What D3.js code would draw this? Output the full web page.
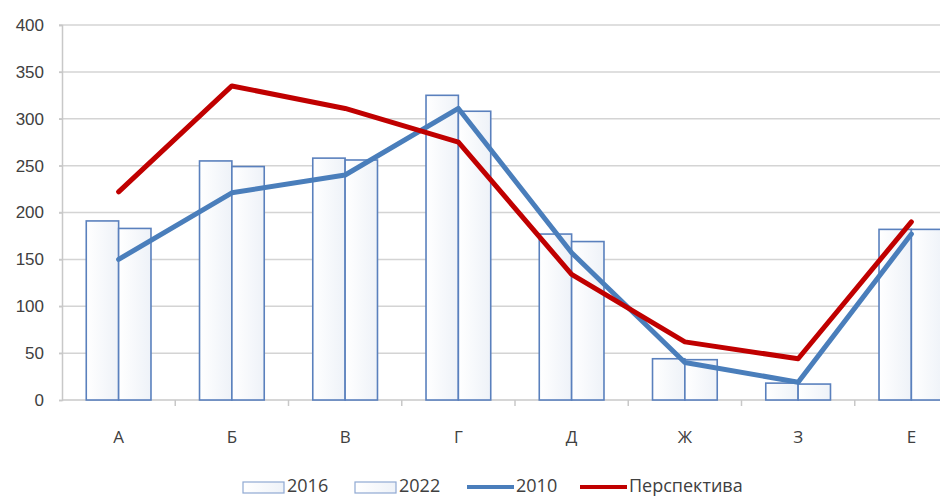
<!DOCTYPE html>
<html>
<head>
<meta charset="utf-8">
<script src="https://cdn.jsdelivr.net/npm/d3@7"></script>
<style>
  html, body { margin: 0; padding: 0; background: #fff; }
  svg { display: block; font-family: "Open Sans", "Liberation Sans", sans-serif; }
</style>
</head>
<body>
<svg id="chart" width="940" height="497"></svg>
<script>
// Categories and series
const categories = ["А", "Б", "В", "Г", "Д", "Ж", "З", "Е"];
const bars2016 = [191, 255, 258, 325, 177, 44, 18, 182];
const bars2022 = [183, 249, 256, 308, 169, 43, 17, 182];
const line2010 = [150, 221, 240, 311, 157, 40, 19, 177];
const linePerspective = [222, 335, 311, 275, 134, 62, 44, 190];
const yTicks = [0, 50, 100, 150, 200, 250, 300, 350, 400];
const legendLabels = ["2016", "2022", "2010", "Перспектива"];

const svg = d3.select("#chart");
const plot = { left: 62, right: 968, top: 25, bottom: 400 };

const x = d3.scaleBand().domain(categories).range([plot.left, plot.right]).padding(0);
const xSub = d3.scaleBand().domain(["2016", "2022"]).range([0, x.bandwidth()])
  .paddingInner(0).paddingOuter(0.75);
const y = d3.scaleLinear().domain([0, 400]).range([plot.bottom, plot.top]);

const textColor = "#404040";
const gridColor = "#d4d4d4";
const barStroke = "#5a80bd";
const blue = "#4a7ebb";
const red = "#c00000";

// Horizontal gridlines
svg.append("g")
  .selectAll("line")
  .data(yTicks.filter(t => t > 0))
  .join("line")
  .attr("x1", plot.left - 3).attr("x2", plot.right)
  .attr("y1", d => y(d)).attr("y2", d => y(d))
  .attr("stroke", gridColor).attr("stroke-width", 1.5);

// Y axis
const yAxis = d3.axisLeft(y).tickValues(yTicks).tickSize(3).tickPadding(15);
const gy = svg.append("g").attr("transform", `translate(${plot.left},0)`).call(yAxis);
gy.select(".domain").attr("stroke", "#c8c8c8").attr("stroke-width", 1.5);
gy.selectAll(".tick line").attr("stroke", "#c8c8c8").attr("stroke-width", 1.5);
gy.selectAll(".tick text").attr("fill", textColor).attr("font-size", 17);

// X axis baseline with tick marks at band boundaries
svg.append("line")
  .attr("x1", plot.left).attr("x2", plot.right)
  .attr("y1", y(0)).attr("y2", y(0))
  .attr("stroke", "#c8c8c8").attr("stroke-width", 1.5);
svg.append("g")
  .selectAll("line")
  .data(categories.slice(1).concat(["end"]))
  .join("line")
  .attr("x1", (d, i) => plot.left + (i + 1) * x.step())
  .attr("x2", (d, i) => plot.left + (i + 1) * x.step())
  .attr("y1", y(0)).attr("y2", y(0) + 6)
  .attr("stroke", "#c8c8c8").attr("stroke-width", 1.5);
svg.append("g")
  .selectAll("text")
  .data(categories)
  .join("text")
  .attr("x", d => x(d) + x.bandwidth() / 2)
  .attr("y", 443)
  .attr("text-anchor", "middle")
  .attr("fill", textColor)
  .attr("font-size", 17)
  .text(d => d);

// Bars
const defs = svg.append("defs");
const grad = defs.append("linearGradient").attr("id", "barFill")
  .attr("x1", 0).attr("x2", 1).attr("y1", 0).attr("y2", 0);
grad.append("stop").attr("offset", "0%").attr("stop-color", "#ffffff");
grad.append("stop").attr("offset", "100%").attr("stop-color", "#eef2f8");

const barSeries = [
  { key: "2016", values: bars2016 },
  { key: "2022", values: bars2022 }
];
barSeries.forEach(s => {
  svg.append("g")
    .selectAll("rect")
    .data(s.values)
    .join("rect")
    .attr("x", (d, i) => x(categories[i]) + xSub(s.key))
    .attr("y", d => y(d))
    .attr("width", xSub.bandwidth())
    .attr("height", d => y(0) - y(d))
    .attr("fill", "url(#barFill)")
    .attr("stroke", barStroke)
    .attr("stroke-width", 1.6);
});

// Lines
const line = d3.line()
  .x((d, i) => x(categories[i]) + x.bandwidth() / 2)
  .y(d => y(d));

svg.append("path").datum(line2010)
  .attr("d", line).attr("fill", "none")
  .attr("stroke", blue).attr("stroke-width", 5)
  .attr("stroke-linejoin", "round").attr("stroke-linecap", "round");
svg.append("path").datum(linePerspective)
  .attr("d", line).attr("fill", "none")
  .attr("stroke", red).attr("stroke-width", 5)
  .attr("stroke-linejoin", "round").attr("stroke-linecap", "round");

// Legend
const legend = svg.append("g").attr("font-size", 18).attr("fill", textColor);
const legendY = 486;
const items = [
  { label: legendLabels[0], type: "box", x: 243 },
  { label: legendLabels[1], type: "box", x: 355 },
  { label: legendLabels[2], type: "line", color: blue, x: 467 },
  { label: legendLabels[3], type: "line", color: red, x: 580 }
];
items.forEach(it => {
  if (it.type === "box") {
    legend.append("rect")
      .attr("x", it.x).attr("y", legendY - 4)
      .attr("width", 41).attr("height", 11)
      .attr("fill", "url(#barFill)").attr("stroke", "#8fa9d3").attr("stroke-width", 1.2);
    legend.append("text").attr("x", it.x + 44).attr("y", legendY).attr("dy", "0.35em")
      .attr("fill", textColor).text(it.label);
  } else {
    legend.append("line")
      .attr("x1", it.x).attr("x2", it.x + 47)
      .attr("y1", legendY + 1).attr("y2", legendY + 1)
      .attr("stroke", it.color).attr("stroke-width", 4);
    legend.append("text").attr("x", it.x + 49).attr("y", legendY).attr("dy", "0.35em")
      .attr("fill", textColor).text(it.label);
  }
});
</script>
</body>
</html>
